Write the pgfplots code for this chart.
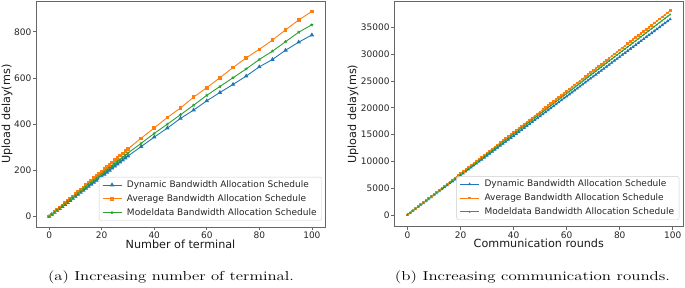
\documentclass[border=0pt]{standalone}
\usepackage{graphicx}
\usepackage{fontspec}
\newfontfamily\djv{DejaVu Sans}
\usepackage{pgfplots}
\usepackage{pgfplotstable}
\pgfplotsset{compat=1.18}
\definecolor{tblue}{HTML}{1F77B4}
\definecolor{torange}{HTML}{FF7F0E}
\definecolor{tgreen}{HTML}{2CA02C}

\pgfplotstableread{
x dyn avg mod
0 0 0 0
1 8.7 9.8 9.2
2 17.5 19.5 18.3
3 26.2 29.3 27.5
4 34.9 39.1 36.7
5 43.7 48.9 45.9
6 52.4 58.6 55.0
7 61.1 68.4 64.2
8 69.8 78.2 73.4
9 78.6 87.9 82.5
10 87.3 97.7 91.7
11 96.0 107.5 100.9
12 104.8 117.2 110.0
13 113.5 127.0 119.2
14 122.2 136.8 128.4
15 131.0 146.6 137.6
16 139.7 156.3 146.7
17 148.4 166.1 155.9
18 157.1 175.9 165.1
19 165.9 185.6 174.2
20 174.6 195.4 183.4
21 183.3 205.2 192.6
22 192.1 214.9 201.7
23 200.8 224.7 210.9
24 209.5 234.5 220.1
25 218.3 244.3 229.3
26 227.0 254.0 238.4
27 235.7 263.8 247.6
28 244.4 273.6 256.8
29 253.2 283.3 265.9
30 261.9 293.1 275.1
35 303 339 317
40 344 384 360
45 383 429 400
50 425 470 441
55 461 517 482
60 501 558 525
65 537 601 563
70 572 645 601
75 608 687 639
80 648 724 680
85 680 764 716
90 720 808 757
95 755 851 798
100 786 888 830
}\termtable

\pgfplotstableread{
x dyn avg mod
0 0 0 0
1 369 385 378
2 738 770 756
3 1107 1155 1134
4 1476 1540 1512
5 1845 1925 1890
6 2214 2310 2268
7 2583 2695 2646
8 2952 3080 3024
9 3321 3465 3402
10 3690 3850 3780
11 4059 4235 4158
12 4428 4620 4536
13 4797 5005 4914
14 5166 5390 5292
15 5535 5775 5670
16 5904 6160 6048
17 6273 6545 6426
18 6642 6930 6804
19 7011 7315 7182
20 7380 7700 7560
21 7749 8085 7938
22 8118 8470 8316
23 8487 8855 8694
24 8856 9240 9072
25 9225 9625 9450
26 9594 10010 9828
27 9963 10395 10206
28 10332 10780 10584
29 10701 11165 10962
30 11070 11550 11340
31 11439 11935 11718
32 11808 12320 12096
33 12177 12705 12474
34 12546 13090 12852
35 12915 13475 13230
36 13284 13860 13608
37 13653 14245 13986
38 14022 14630 14364
39 14391 15015 14742
40 14760 15400 15120
41 15129 15785 15498
42 15498 16170 15876
43 15867 16555 16254
44 16236 16940 16632
45 16605 17325 17010
46 16974 17710 17388
47 17343 18095 17766
48 17712 18480 18144
49 18081 18865 18522
50 18450 19250 18900
51 18819 19635 19278
52 19188 20020 19656
53 19557 20405 20034
54 19926 20790 20412
55 20295 21175 20790
56 20664 21560 21168
57 21033 21945 21546
58 21402 22330 21924
59 21771 22715 22302
60 22140 23100 22680
61 22509 23485 23058
62 22878 23870 23436
63 23247 24255 23814
64 23616 24640 24192
65 23985 25025 24570
66 24354 25410 24948
67 24723 25795 25326
68 25092 26180 25704
69 25461 26565 26082
70 25830 26950 26460
71 26199 27335 26838
72 26568 27720 27216
73 26937 28105 27594
74 27306 28490 27972
75 27675 28875 28350
76 28044 29260 28728
77 28413 29645 29106
78 28782 30030 29484
79 29151 30415 29862
80 29520 30800 30240
81 29889 31185 30618
82 30258 31570 30996
83 30627 31955 31374
84 30996 32340 31752
85 31365 32725 32130
86 31734 33110 32508
87 32103 33495 32886
88 32472 33880 33264
89 32841 34265 33642
90 33210 34650 34020
91 33579 35035 34398
92 33948 35420 34776
93 34317 35805 35154
94 34686 36190 35532
95 35055 36575 35910
96 35424 36960 36288
97 35793 37345 36666
98 36162 37730 37044
99 36531 38115 37422
}\roundtable

\pgfplotsset{
  mplstyle/.style={
    scale only axis,
    axis line style={black!60, line width=0.7pt},
    tick style={black!60, line width=0.7pt},
    tick align=outside,
    major tick length=3pt,
    xtick pos=bottom, ytick pos=left,
    /pgf/number format/assume math mode=true,
    /pgf/number format/set thousands separator={},
    ticklabel style={font=\djv\fontsize{9}{10}\selectfont, text=black!85, inner sep=1.5pt},
    label style={font=\djv\fontsize{11.2}{13}\selectfont, text=black!90},
    legend cell align=left,
    legend style={font=\djv\fontsize{9}{10}\selectfont, text=black!85, draw=black!20, rounded corners=2pt,
      fill=white, fill opacity=0.8, text opacity=1, inner xsep=3pt, inner ysep=1pt,
      anchor=south east,
      nodes={inner sep=2pt, text height=7.4pt, text depth=2.4pt},
      /tikz/every odd column/.append style={column sep=3pt}},
    legend image code/.code={\draw[mark repeat=2, mark phase=2, #1] plot coordinates {(0pt,0pt) (9.5pt,0pt) (19pt,0pt)};},
    every axis plot/.append style={line width=0.9pt},
  }
}

\begin{document}
\begin{tikzpicture}
\useasboundingbox (0pt,0pt) rectangle (685pt,287pt);
\begin{axis}[mplstyle,
  at={(36pt,60pt)}, anchor=south west,
  width=289pt, height=226pt,
  xmin=-5, xmax=105, ymin=-45, ymax=933,
  xtick={0,20,40,60,80,100}, ytick={0,200,400,600,800},
  xlabel={Number of terminal}, ylabel={Upload delay(ms)},
  xlabel style={at={(rel axis cs:0.5,-0.093)}, anchor=base},
  ylabel style={at={(rel axis cs:-0.100,0.5)}, anchor=center},
  legend style={at={(rel axis cs:0.9886,0.028)}},
]
\addplot[tblue, mark=triangle*, mark size=1.7pt] table[x=x,y=dyn] {\termtable};
\addlegendentry{Dynamic Bandwidth Allocation Schedule}
\addplot[torange, mark=square*, mark size=1.3pt] table[x=x,y=avg] {\termtable};
\addlegendentry{Average Bandwidth Allocation Schedule}
\addplot[tgreen, mark=star, mark size=1.6pt, mark options={line width=0.7pt}] table[x=x,y=mod] {\termtable};
\addlegendentry{Modeldata Bandwidth Allocation Schedule}
\end{axis}

\begin{axis}[mplstyle,
  at={(394.3pt,60.3pt)}, anchor=south west,
  width=289pt, height=225pt,
  xmin=-4.95, xmax=103.95, ymin=-2200, ymax=39800,
  xtick={0,20,40,60,80,100}, ytick={0,5000,10000,15000,20000,25000,30000,35000},
  scaled y ticks=false,
  xlabel={Communication rounds}, ylabel={Upload delay(ms)},
  xlabel style={at={(rel axis cs:0.5,-0.093)}, anchor=base},
  ylabel style={at={(rel axis cs:-0.143,0.5)}, anchor=center},
  legend style={at={(rel axis cs:0.986,0.030)}},
]
\addplot[tblue, mark=triangle*, mark size=1.0pt] table[x=x,y=dyn] {\roundtable};
\addlegendentry{Dynamic Bandwidth Allocation Schedule}
\addplot[torange, mark=square*, mark size=0.8pt] table[x=x,y=avg] {\roundtable};
\addlegendentry{Average Bandwidth Allocation Schedule}
\addplot[tgreen, mark=star, mark size=1.0pt, mark options={line width=0.5pt}] table[x=x,y=mod] {\roundtable};
\addlegendentry{Modeldata Bandwidth Allocation Schedule}
\end{axis}

\node[anchor=base] at (171pt,7pt) {\scalebox{1.28}[1]{\fontsize{13}{15}\selectfont (a) Increasing number of terminal.}};
\node[anchor=base] at (532.5pt,7pt) {\scalebox{1.30}[1]{\fontsize{13}{15}\selectfont (b) Increasing communication rounds.}};
\end{tikzpicture}
\end{document}
